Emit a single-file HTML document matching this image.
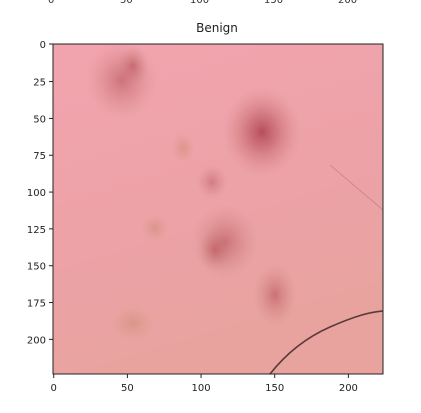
<!DOCTYPE html>
<html><head><meta charset="utf-8"><style>
body{margin:0;background:#fff;width:421px;height:408px;overflow:hidden;font-family:"Liberation Sans","DejaVu Sans",sans-serif}
</style></head><body>
<svg width="421" height="408" font-family="DejaVu Sans, Liberation Sans, sans-serif" font-size="10">
<defs>
<linearGradient id="bg" x1="0" y1="0" x2="0.3" y2="1">
<stop offset="0" stop-color="#f2a4ae"/><stop offset="0.5" stop-color="#eda2a8"/><stop offset="1" stop-color="#e8a39e"/>
</linearGradient>
<radialGradient id="dark"><stop offset="0" stop-color="#a83848" stop-opacity="0.8"/><stop offset="0.35" stop-color="#b85058" stop-opacity="0.55"/><stop offset="0.75" stop-color="#c87070" stop-opacity="0.2"/><stop offset="1" stop-color="#e09098" stop-opacity="0"/></radialGradient>
<radialGradient id="mid"><stop offset="0" stop-color="#b8505a" stop-opacity="0.6"/><stop offset="0.5" stop-color="#c06a6a" stop-opacity="0.3"/><stop offset="1" stop-color="#d08888" stop-opacity="0"/></radialGradient>
<radialGradient id="tan"><stop offset="0" stop-color="#c88468" stop-opacity="0.45"/><stop offset="0.6" stop-color="#d09078" stop-opacity="0.2"/><stop offset="1" stop-color="#e0a090" stop-opacity="0"/></radialGradient>
<clipPath id="ax"><rect x="53" y="44" width="330" height="330"/></clipPath>
</defs>
<g fill="#333"><text x="48" y="3">0</text><text x="120" y="3">50</text><text x="190" y="3">100</text><text x="264" y="3">150</text><text x="338" y="3">200</text></g>
<text x="217" y="32" text-anchor="middle" font-size="12" fill="#222">Benign</text>
<g clip-path="url(#ax)">
<rect x="53" y="44" width="330" height="330" fill="url(#bg)"/>
<ellipse cx="122" cy="80" rx="36" ry="40" fill="url(#mid)"/>
<ellipse cx="133" cy="66" rx="16" ry="20" fill="url(#mid)"/>
<ellipse cx="262" cy="132" rx="40" ry="46" fill="url(#dark)"/>
<ellipse cx="212" cy="182" rx="16" ry="18" fill="url(#mid)" opacity="0.8"/>
<ellipse cx="183" cy="148" rx="12" ry="16" fill="url(#tan)"/>
<ellipse cx="225" cy="242" rx="34" ry="38" fill="url(#mid)"/>
<ellipse cx="215" cy="250" rx="18" ry="22" fill="url(#mid)"/>
<ellipse cx="275" cy="295" rx="22" ry="32" fill="url(#mid)"/>
<ellipse cx="133" cy="323" rx="22" ry="18" fill="url(#tan)"/>
<ellipse cx="155" cy="228" rx="14" ry="14" fill="url(#tan)"/>
<path d="M270 374 C285 355 305 338 330 327 S370 312 383 311" stroke="#5a3a3a" stroke-width="1.6" fill="none"/>
<path d="M330 165 L383 210" stroke="#a06060" stroke-width="0.8" fill="none" opacity="0.5"/>
</g>
<rect x="53" y="44" width="330" height="330" fill="none" stroke="#222" stroke-width="1"/>
<g id="ticks" fill="#222"></g>
<script>
const xTicks=[0,50,100,150,200];
const yTicks=[0,25,50,75,100,125,150,175,200];
const imgSize=224;
const L=53,T=44,S=330;
const sx=v=>L+(v+0.5)*S/imgSize, sy=v=>T+(v+0.5)*S/imgSize;
const g=document.getElementById('ticks');
const ns='http://www.w3.org/2000/svg';
xTicks.forEach(v=>{
 const l=document.createElementNS(ns,'line');l.setAttribute('x1',sx(v));l.setAttribute('x2',sx(v));l.setAttribute('y1',374);l.setAttribute('y2',378);l.setAttribute('stroke','#222');
 
 
 g.appendChild(l);
 const t=document.createElementNS(ns,'text');t.setAttribute('x',sx(v));t.setAttribute('y',391);t.setAttribute('text-anchor','middle');t.textContent=v;
 
 
 g.appendChild(t);
});
yTicks.forEach(v=>{
 const y=v===0?T:sy(v);
 const l=document.createElementNS(ns,'line');l.setAttribute('x1',49);l.setAttribute('x2',53);l.setAttribute('y1',y);l.setAttribute('y2',y);l.setAttribute('stroke','#222');
 
 
 g.appendChild(l);
 const t=document.createElementNS(ns,'text');t.setAttribute('x',46);t.setAttribute('y',y+4);t.setAttribute('text-anchor','end');t.textContent=v;
 
 
 g.appendChild(t);
});
</script>
</svg>
</body></html>
